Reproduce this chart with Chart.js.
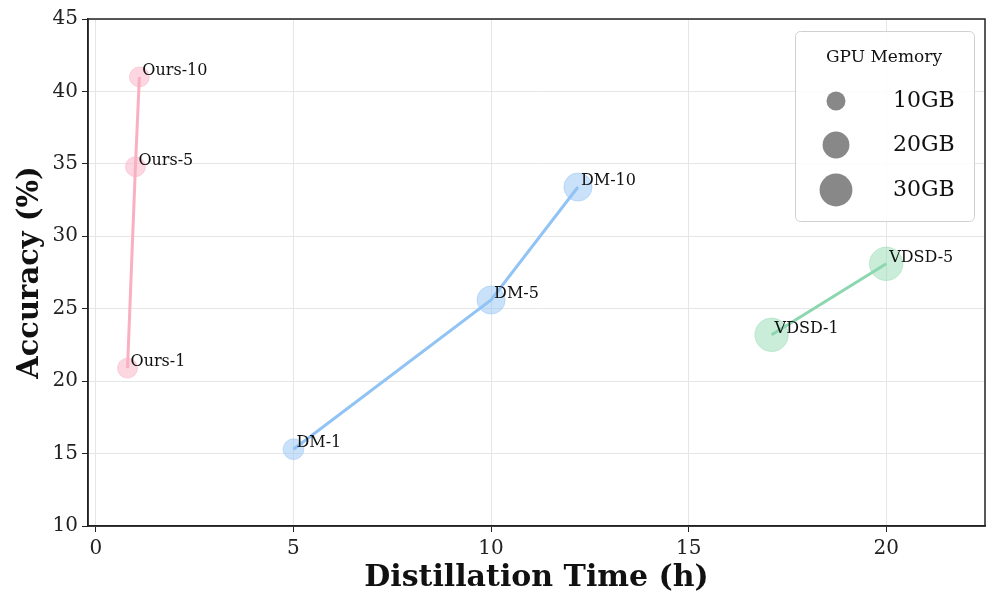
<!DOCTYPE html>
<html>
<head>
<meta charset="utf-8">
<script src="https://cdn.jsdelivr.net/npm/chart.js@4"></script>
<style>
html,body{margin:0;padding:0;background:#fff;}
#wrap{width:997px;height:608px;}
</style>
</head>
<body>
<div id="wrap"><canvas id="c" width="997" height="608"></canvas></div>
<script>
// ---- data ----
const oursLabels = ["Ours-1", "Ours-5", "Ours-10"];
const oursTime = [0.8, 1.0, 1.1];
const oursAcc = [20.9, 34.8, 41.0];
const oursMem = [11, 11, 11];

const dmLabels = ["DM-1", "DM-5", "DM-10"];
const dmTime = [5.0, 10.0, 12.2];
const dmAcc = [15.3, 25.6, 33.4];
const dmMem = [12, 22, 22];

const vdsdLabels = ["VDSD-1", "VDSD-5"];
const vdsdTime = [17.1, 20.0];
const vdsdAcc = [23.2, 28.1];
const vdsdMem = [31, 31];

const xTicks = [0, 5, 10, 15, 20];
const yTicks = [10, 15, 20, 25, 30, 35, 40, 45];
const legendMem = [10, 20, 30];
const legendLabels = ["10GB", "20GB", "30GB"];

const FONT = "'DejaVu Serif', serif";
const memRadius = m => 3.0 * Math.sqrt(m);

const groups = [
  {labels: oursLabels, x: oursTime, y: oursAcc, mem: oursMem, line: 'rgba(248,176,194,1)', fill: 'rgba(250,180,198,0.55)'},
  {labels: dmLabels, x: dmTime, y: dmAcc, mem: dmMem, line: 'rgba(145,195,245,1)', fill: 'rgba(150,195,245,0.5)'},
  {labels: vdsdLabels, x: vdsdTime, y: vdsdAcc, mem: vdsdMem, line: 'rgba(140,215,176,1)', fill: 'rgba(150,220,180,0.5)'}
];

const toPts = g => g.x.map((v, i) => ({x: v, y: g.y[i]}));

const datasets = [];
// lines first (drawn on top)
groups.forEach(g => datasets.push({
  data: toPts(g), showLine: true, borderColor: g.line, borderWidth: 3,
  pointRadius: 0, fill: false, tension: 0
}));
// markers
groups.forEach(g => datasets.push({
  data: toPts(g), showLine: false,
  pointRadius: ctx => memRadius(g.mem[ctx.dataIndex]),
  pointBackgroundColor: g.fill, pointBorderColor: g.fill, pointBorderWidth: 1
}));

const extras = {
  id: 'extras',
  afterDatasetsDraw(chart) {
    const ctx = chart.ctx, xs = chart.scales.x, ys = chart.scales.y, a = chart.chartArea;
    ctx.save();
    // point labels
    ctx.font = "16px " + FONT;
    ctx.fillStyle = '#111';
    ctx.textAlign = 'left';
    ctx.textBaseline = 'middle';
    groups.forEach(g => g.labels.forEach((lab, i) => {
      const px = xs.getPixelForValue(g.x[i]), py = ys.getPixelForValue(g.y[i]);
      ctx.fillText(lab, px + 3, py - 6);
    }));
    // frame (top & right spines)
    ctx.strokeStyle = '#222';
    ctx.lineWidth = 1.5;
    ctx.strokeRect(a.left, a.top, a.right - a.left, a.bottom - a.top);
    // legend box
    const bx = 795, by = 31, bw = 179, bh = 190, r = 5;
    ctx.fillStyle = 'rgba(255,255,255,0.85)';
    ctx.strokeStyle = '#d0d0d0';
    ctx.lineWidth = 1;
    ctx.beginPath();
    ctx.roundRect(bx + 0.5, by + 0.5, bw, bh, r);
    ctx.fill();
    ctx.stroke();
    ctx.fillStyle = '#111';
    ctx.font = "17px " + FONT;
    ctx.textAlign = 'center';
    ctx.fillText("GPU Memory", 884, 58);
    const rowsY = [101, 145, 190];
    legendMem.forEach((m, i) => {
      ctx.fillStyle = '#888888';
      ctx.beginPath();
      ctx.arc(836, rowsY[i], memRadius(m), 0, Math.PI * 2);
      ctx.fill();
      ctx.fillStyle = '#111';
      ctx.font = "22px " + FONT;
      ctx.textAlign = 'left';
      ctx.fillText(legendLabels[i], 893, rowsY[i]);
    });
    ctx.restore();
  }
};

new Chart(document.getElementById('c'), {
  type: 'scatter',
  data: {datasets},
  plugins: [extras],
  options: {
    responsive: false,
    animation: false,
    devicePixelRatio: 1,
    layout: {autoPadding: false, padding: {top: 19, right: 12, left: 0, bottom: 0}},
    plugins: {legend: {display: false}, tooltip: {enabled: false}},
    scales: {
      x: {
        type: 'linear', min: -0.2, max: 22.5,
        afterBuildTicks: s => { s.ticks = xTicks.map(v => ({value: v})); },
        afterFit: s => { s.height = 82; s.paddingLeft = 0; s.paddingRight = 0; },
        grid: {color: '#e6e6e6', lineWidth: 1, tickColor: '#222', tickLength: 6, drawTicks: true},
        border: {display: true, color: '#222', width: 1.5},
        ticks: {font: {family: FONT, size: 20}, color: '#222', padding: 5, maxRotation: 0},
        title: {display: true, text: 'Distillation Time (h)', font: {family: FONT, size: 30, weight: 'bold'}, color: '#111', padding: {top: 2, bottom: 12}}
      },
      y: {
        type: 'linear', min: 10, max: 45,
        afterBuildTicks: s => { s.ticks = yTicks.map(v => ({value: v})); },
        afterFit: s => { s.width = 88; s.paddingTop = 0; s.paddingBottom = 0; },
        grid: {color: '#e6e6e6', lineWidth: 1, tickColor: '#222', tickLength: 6, drawTicks: true},
        border: {display: true, color: '#222', width: 1.5},
        ticks: {font: {family: FONT, size: 20}, color: '#222', padding: 4},
        title: {display: true, text: 'Accuracy (%)', font: {family: FONT, size: 29, weight: 'bold'}, color: '#111', padding: {top: 13, bottom: 4}}
      }
    }
  }
});
</script>
</body>
</html>
